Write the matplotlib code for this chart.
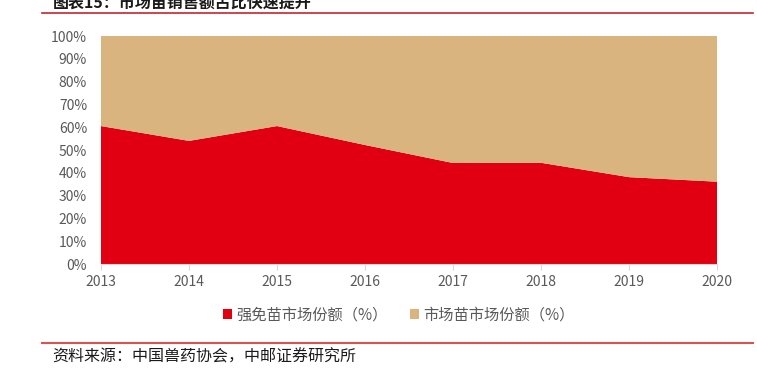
import numpy as np
import matplotlib.pyplot as plt
from matplotlib.lines import Line2D
from matplotlib.patches import Patch

plt.rcParams['font.family'] = ['Noto Sans CJK SC', 'DejaVu Sans']

years = [2013, 2014, 2015, 2016, 2017, 2018, 2019, 2020]
qiangmian = [60.5, 54.0, 60.5, 52.2, 44.3, 44.4, 38.1, 36.1]
shichang = [100 - v for v in qiangmian]
labels = ['强免苗市场份额（%）', '市场苗市场份额（%）']
colors = ['#E00012', '#D9B47F']

fig = plt.figure(figsize=(7.57, 3.70), dpi=100)
ax = fig.add_axes([101 / 757, 1 - 264 / 370, 616 / 757, 228 / 370])

ax.stackplot(years, qiangmian, shichang, colors=colors, linewidth=0)
ax.set_xlim(2013, 2020)
ax.set_ylim(0, 100)
ax.set_yticks(np.arange(0, 101, 10))
ax.set_yticklabels([f'{v}%' for v in range(0, 101, 10)])
ax.set_xticks(years)
for s in ['top', 'right', 'left']:
    ax.spines[s].set_visible(False)
ax.spines['bottom'].set_color('#D9D9D9')
ax.tick_params(axis='y', length=0, labelsize=10, labelcolor='#595959', pad=10)
ax.tick_params(axis='x', length=4, color='#D9D9D9', labelsize=10, labelcolor='#595959', pad=4)

handles = [Patch(facecolor=c, edgecolor='none') for c in colors]
fig.legend(handles, labels, loc='center', bbox_to_anchor=(0.527, 1 - 315 / 370), ncol=2,
           frameon=False, fontsize=11, handlelength=0.55, handleheight=0.55,
           handletextpad=0.3, columnspacing=1.5, labelcolor='#595959')

# title (cut off at the top, as in the source) and source line
fig.text(53 / 757, 1 - 3 / 370, '图表15：市场苗销售额占比快速提升', fontsize=11.5,
         fontweight='bold', color='#1a1a1a', va='center', ha='left')
fig.add_artist(Line2D([42 / 757, 753 / 757], [1 - 13 / 370] * 2, color='#C0272D', lw=1.2))
fig.add_artist(Line2D([42 / 757, 753 / 757], [1 - 343 / 370] * 2, color='#D9534F', lw=1.5))
fig.text(52 / 757, 1 - 357 / 370, '资料来源：中国兽药协会，中邮证券研究所', fontsize=11.5,
         color='#1a1a1a', va='center', ha='left')

fig.savefig('out.png', dpi=100)
